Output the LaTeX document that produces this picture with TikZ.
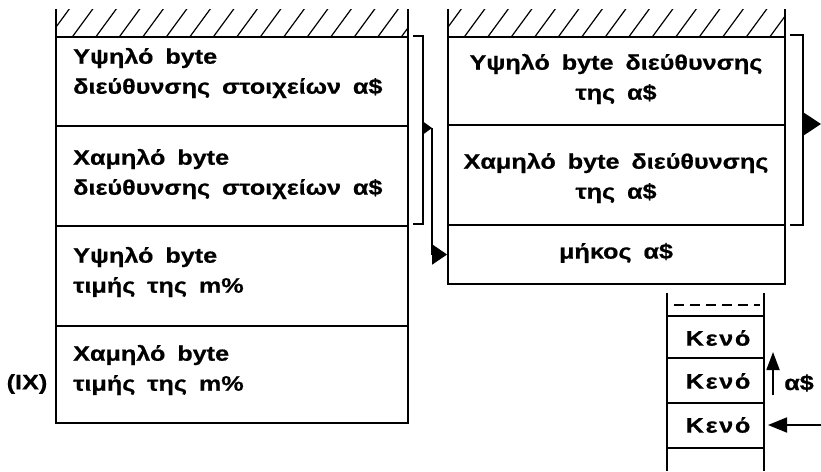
\documentclass[tikz,border=0pt]{standalone}
\usepackage{fontspec}
\setmainfont{Liberation Sans}
\newfontfamily\lblfont{Liberation Sans}[FakeStretch=1.2, WordSpace=1.7, BoldFeatures={FakeBold=0.6}]
\newfontfamily\kenofont{Liberation Sans}[FakeStretch=1.2, LetterSpace=8, BoldFeatures={FakeBold=0.6}]
\usetikzlibrary{arrows.meta}
\tikzset{
  cell/.style={draw, line width=1.8pt, rectangle, inner sep=0pt},
  txt/.style={font=\lblfont\bfseries\fontsize{21}{30}\selectfont, inner sep=0pt, align=left},
  ctxt/.style={font=\lblfont\bfseries\fontsize{21}{30}\selectfont, inner sep=0pt, align=center},
  ktxt/.style={font=\kenofont\bfseries\fontsize{21}{30}\selectfont, inner sep=0pt, align=center},
  wall/.style={line width=1.8pt},
  hatchline/.style={line width=1.2pt},
  brk/.style={line width=1.8pt},
}
\begin{document}
\begin{tikzpicture}[x=1pt,y=-1pt]
\useasboundingbox (0,0) rectangle (821,471);
% ---------- left stack ----------
\begin{scope}
\clip (56,9) rectangle (408,37);
\foreach \i in {0,...,15} {\draw[hatchline] (48+23.5*\i,38) -- (70+23.5*\i,8);}
\end{scope}
\draw[wall] (56,9) -- (56,37);
\draw[wall] (408,9) -- (408,37);
\node[cell, minimum width=352pt, minimum height=89pt] (L1) at (232,81.5) {};
\node[cell, minimum width=352pt, minimum height=100pt] (L2) at (232,176) {};
\node[cell, minimum width=352pt, minimum height=100pt] (L3) at (232,276) {};
\node[cell, minimum width=352pt, minimum height=97pt] (L4) at (232,374.5) {};
\node[txt, anchor=west] (tL1) at (73,73) {Υψηλό byte\\διεύθυνσης στοιχείων α\$};
\node[txt, anchor=west] (tL2) at (73,174) {Χαμηλό byte\\διεύθυνσης στοιχείων α\$};
\node[txt, anchor=west] (tL3) at (73,272) {Υψηλό byte\\τιμής της m\%};
\node[txt, anchor=west] (tL4) at (73,370) {Χαμηλό byte\\τιμής της m\%};
\node[txt] (ix) at (27,384) {(IX)};
% ---------- right stack ----------
\begin{scope}
\clip (448,9) rectangle (785,37);
\foreach \i in {0,...,15} {\draw[hatchline] (440+23.5*\i,38) -- (462+23.5*\i,8);}
\end{scope}
\draw[wall] (448,9) -- (448,37);
\draw[wall] (785,9) -- (785,37);
\node[cell, minimum width=337pt, minimum height=88pt] (R1) at (616.5,81) {};
\node[cell, minimum width=337pt, minimum height=100pt] (R2) at (616.5,175) {};
\node[cell, minimum width=337pt, minimum height=59pt] (R3) at (616.5,254.5) {};
\node[ctxt] (tR1) at (616,79) {Υψηλό byte διεύθυνσης\\της α\$};
\node[ctxt] (tR2) at (616,178) {Χαμηλό byte διεύθυνσης\\της α\$};
\node[ctxt] (tR3) at (616,253) {μήκος α\$};
% ---------- brackets and arrows ----------
\coordinate (lb1) at (413,36);
\coordinate (lb2) at (423,36);
\coordinate (lb3) at (423,224);
\coordinate (lb4) at (413,224);
\coordinate (lbm) at (423,128);
\coordinate (lbt) at (432,128);
\draw[brk] (lb1) -- (lb2) -- (lb3) -- (lb4);
\draw[brk, -{Triangle[length=10pt,width=14pt]}] (lbm) -- (lbt);
\draw[brk, -{Triangle[length=15pt,width=20pt]}] (lbt) |- (R3.west);
\coordinate (rb1) at (790,35);
\coordinate (rb2) at (803,35);
\coordinate (rb3) at (803,225);
\coordinate (rb4) at (790,225);
\coordinate (rbm) at (803,124);
\coordinate (rbt) at (821,124);
\draw[brk] (rb1) -- (rb2) -- (rb3) -- (rb4);
\draw[brk, -{Triangle[length=17pt,width=22pt]}] (rbm) -- (rbt);
% ---------- small stack ----------
\draw[wall] (667,293) -- (667,316);
\draw[wall] (764,293) -- (764,316);
\draw[line width=1.8pt, dash pattern=on 10pt off 6pt] (674,305) -- (760,305);
\node[cell, minimum width=97pt, minimum height=42pt] (S1) at (715.5,337) {};
\node[cell, minimum width=97pt, minimum height=45pt] (S2) at (715.5,380.5) {};
\node[cell, minimum width=97pt, minimum height=45pt] (S3) at (715.5,425.5) {};
\draw[wall] (667,448) -- (667,471);
\draw[wall] (764,448) -- (764,471);
\node[ktxt] (tS1) at (718,338) {Κενό};
\node[ktxt] (tS2) at (718,381) {Κενό};
\node[ktxt] (tS3) at (718,425) {Κενό};
\coordinate (ua0) at (773,395);
\coordinate (ua1) at (773,352);
\draw[line width=1.8pt, -{Triangle[length=18pt,width=13pt]}] (ua0) -- (ua1);
\node[txt] (alab) at (799,383) {α\$};
\coordinate (la0) at (821,425);
\coordinate (la1) at (768,425);
\draw[line width=1.8pt, -{Triangle[length=19pt,width=15pt]}] (la0) -- (la1);
\end{tikzpicture}
\end{document}
